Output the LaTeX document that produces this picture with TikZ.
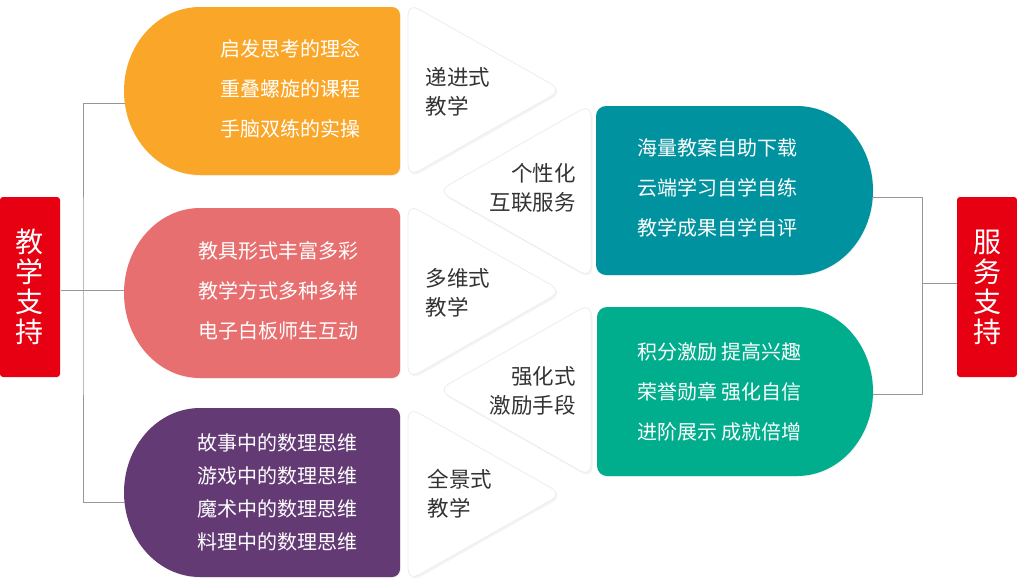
\documentclass[tikz,border=0pt]{standalone}
\usepackage{fontspec}
\setmainfont{Noto Sans CJK SC}
\usetikzlibrary{shadows}

\definecolor{supportRed}{RGB}{230,0,18}
\definecolor{orangeFill}{RGB}{250,166,40}
\definecolor{pinkFill}{RGB}{232,111,111}
\definecolor{purpleFill}{RGB}{100,58,117}
\definecolor{tealFill}{RGB}{0,146,158}
\definecolor{greenFill}{RGB}{0,174,142}
\definecolor{linkGray}{RGB}{150,150,150}
\definecolor{darkText}{RGB}{51,51,51}

\tikzset{every picture/.style={line width=1pt}}
\tikzset{
  sidebox/.style={fill=supportRed, rounded corners=3pt, minimum width=60pt, minimum height=180pt,
    inner sep=0pt, text=white, align=center, font=\fontsize{28}{30}\selectfont},
  itemtext/.style={text=white, inner sep=0pt, font=\fontsize{20}{40}\selectfont},
  arrowtext/.style={text=darkText, inner sep=0pt, font=\fontsize{21.5}{29}\selectfont},
  chevron/.style={fill=white, draw=black!7, line width=0.8pt, rounded corners=12pt,
    drop shadow={opacity=0.09, shadow xshift=1.5pt, shadow yshift=-2pt}},
  colorshape/.style={drop shadow={opacity=0.08, shadow xshift=1pt, shadow yshift=-1pt}},
  linkline/.style={draw=linkGray, line width=1pt}
}

\begin{document}
\begin{tikzpicture}[x=1pt,y=1pt,yscale=-1,xscale=1]
	\useasboundingbox (0,0) rectangle (1017,582);

	%Shape: Left Round [id:orange] 
	\fill [orangeFill, colorshape] (200,7) -- (392,7) arc[start angle=-90, end angle=0, radius=8] -- (400,167) arc[start angle=0, end angle=90, radius=8] -- (200,175) arc[start angle=90, end angle=270, x radius=76, y radius=84] -- cycle ;
	%Shape: Left Round [id:pink] 
	\fill [pinkFill, colorshape] (200,208) -- (392,208) arc[start angle=-90, end angle=0, radius=8] -- (400,370) arc[start angle=0, end angle=90, radius=8] -- (200,378) arc[start angle=90, end angle=270, x radius=76, y radius=85] -- cycle ;
	%Shape: Left Round [id:purple] 
	\fill [purpleFill, colorshape] (200,408) -- (392,408) arc[start angle=-90, end angle=0, radius=8] -- (400,569) arc[start angle=0, end angle=90, radius=8] -- (200,577) arc[start angle=90, end angle=270, x radius=76, y radius=84.5] -- cycle ;
	%Shape: Right Round [id:teal] 
	\fill [tealFill, colorshape] (797,106) arc[start angle=-90, end angle=90, x radius=76, y radius=84.5] -- (606,275) arc[start angle=90, end angle=180, radius=10] -- (596,116) arc[start angle=180, end angle=270, radius=10] -- cycle ;
	%Shape: Right Round [id:green] 
	\fill [greenFill, colorshape] (797,307) arc[start angle=-90, end angle=90, x radius=76, y radius=84.5] -- (607,476) arc[start angle=90, end angle=180, radius=10] -- (597,317) arc[start angle=180, end angle=270, radius=10] -- cycle ;

	%Shape: Triangle [id:chevronA] 
	\path [chevron] (408,3) -- (562,90) -- (408,177) -- cycle ;
	%Shape: Triangle [id:chevronB] 
	\path [chevron] (591,104) -- (438,191) -- (591,278) -- cycle ;
	%Shape: Triangle [id:chevronC] 
	\path [chevron] (408,204) -- (562,291) -- (408,379) -- cycle ;
	%Shape: Triangle [id:chevronD] 
	\path [chevron] (591,303) -- (438,390) -- (591,477) -- cycle ;
	%Shape: Triangle [id:chevronE] 
	\path [chevron] (408,407) -- (562,494) -- (408,581) -- cycle ;

	%Shape: Rectangle [id:teachBox] 
	\node [sidebox] (teach) at (30,287) {教\\学\\支\\持};
	%Shape: Rectangle [id:serveBox] 
	\node [sidebox] (serve) at (987,287) {服\\务\\支\\持};

	%Straight Lines [id:leftBracket] 
	\coordinate (orangeIn) at (125,103);
	\coordinate (pinkIn) at (124,290);
	\coordinate (purpleIn) at (125,502);
	\coordinate (hubL) at (83,290);
	\draw [linkline] (orangeIn) -| (hubL) |- (purpleIn) ;
	\draw [linkline] (teach.east |- hubL) -- (pinkIn) ;
	%Straight Lines [id:rightBracket] 
	\coordinate (tealOut) at (872,197);
	\coordinate (greenOut) at (873,394);
	\coordinate (hubR) at (922,283);
	\draw [linkline] (tealOut) -| (hubR) |- (greenOut) ;
	\draw [linkline] (hubR) -- (serve.west |- hubR) ;

	% Text Node
	\node [itemtext, align=center] (orangeText) at (290,89) {启发思考的理念\\重叠螺旋的课程\\手脑双练的实操};
	% Text Node
	\node [itemtext, align=center] (pinkText) at (278,291) {教具形式丰富多彩\\教学方式多种多样\\电子白板师生互动};
	% Text Node
	\node [itemtext, align=center, font=\fontsize{20}{33}\selectfont] (purpleText) at (277,492) {故事中的数理思维\\游戏中的数理思维\\魔术中的数理思维\\料理中的数理思维};
	% Text Node
	\node [itemtext, align=left, anchor=west] (tealText) at (637,188) {海量教案自助下载\\云端学习自学自练\\教学成果自学自评};
	% Text Node
	\node [itemtext, align=left, anchor=west] (greenText) at (637,392) {积分激励 提高兴趣\\荣誉勋章 强化自信\\进阶展示 成就倍增};

	% Text Node
	\node [arrowtext, align=left, anchor=west] (stepText) at (425,92) {递进式\\教学};
	% Text Node
	\node [arrowtext, align=right, anchor=east] (personalText) at (576,188) {个性化\\互联服务};
	% Text Node
	\node [arrowtext, align=left, anchor=west] (multiText) at (425,293) {多维式\\教学};
	% Text Node
	\node [arrowtext, align=right, anchor=east] (boostText) at (576,391) {强化式\\激励手段};
	% Text Node
	\node [arrowtext, align=left, anchor=west] (panoText) at (427,494) {全景式\\教学};

\end{tikzpicture}
\end{document}
